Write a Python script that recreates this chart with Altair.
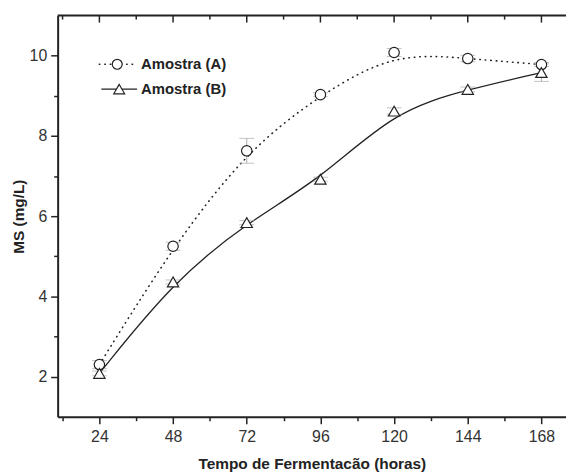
import altair as alt
import pandas as pd

hours = [24, 48, 72, 96, 120, 144, 168]
ms_a = [2.30, 5.25, 7.63, 9.03, 10.08, 9.93, 9.78]
ms_b = [2.08, 4.36, 5.84, 6.92, 8.62, 9.16, 9.58]
err_a = [0.10, 0.10, 0.31, 0.05, 0.10, 0.08, 0.05]
err_b = [0.06, 0.05, 0.05, 0.05, 0.08, 0.06, 0.22]
series_names = ["Amostra (A)", "Amostra (B)"]

x_major = [24, 48, 72, 96, 120, 144, 168]
x_minor = [12, 36, 60, 84, 108, 132, 156]
y_ticks = [2, 3, 4, 5, 6, 7, 8, 9, 10]

W, H = 512, 404
INK = "#222222"
TXT = "#333333"

df_a = pd.DataFrame({"h": hours, "v": ms_a, "lo": [v - e for v, e in zip(ms_a, err_a)],
                     "hi": [v + e for v, e in zip(ms_a, err_a)]})
df_b = pd.DataFrame({"h": hours, "v": ms_b, "lo": [v - e for v, e in zip(ms_b, err_b)],
                     "hi": [v + e for v, e in zip(ms_b, err_b)]})

xs = alt.Scale(domain=[10.4, 176], nice=False, zero=False)
ys = alt.Scale(domain=[1, 11], nice=False, zero=False)

x_axis = alt.Axis(
    values=sorted(x_major + x_minor),
    labelExpr="datum.value % 24 == 0 ? datum.label : ''",
    tickSize={"condition": {"test": "datum.value % 24 == 0", "value": 7}, "value": 4},
    title="Tempo de Fermentacão (horas)",
    titleFont="Liberation Sans", titleFontSize=15.5, titleFontWeight="bold", titleColor=INK,
    titlePadding=12,
    labelFont="Liberation Sans", labelFontSize=16, labelColor=TXT, labelPadding=5,
    domainColor=INK, domainWidth=2, tickColor=INK, tickWidth=1.5, grid=False,
)
y_axis = alt.Axis(
    values=y_ticks,
    labelExpr="datum.value % 2 == 0 ? datum.label : ''",
    tickSize={"condition": {"test": "datum.value % 2 == 0", "value": 7}, "value": 4},
    title="MS (mg/L)",
    titleFont="Liberation Sans", titleFontSize=15.5, titleFontWeight="bold", titleColor=INK,
    titlePadding=3,
    labelFont="Liberation Sans", labelFontSize=16, labelColor=TXT, labelPadding=4,
    domainColor=INK, domainWidth=2, tickColor=INK, tickWidth=1.5, grid=False,
)

def X():
    return alt.X("h:Q", scale=xs, axis=x_axis)

def Y(field="v"):
    return alt.Y(f"{field}:Q", scale=ys, axis=y_axis)

line_a = alt.Chart(df_a).mark_line(
    interpolate="basis", color=INK, strokeWidth=1.6, strokeDash=[0.5, 5], strokeCap="round"
).encode(x=X(), y=Y())
line_b = alt.Chart(df_b).mark_line(
    interpolate="basis", color=INK, strokeWidth=1.3
).encode(x=X(), y=Y())

def errbars(df):
    bar = alt.Chart(df).mark_rule(color="#aaaaaa", strokeWidth=1).encode(
        x=X(), y=Y("lo"), y2="hi:Q")
    cap_lo = alt.Chart(df).mark_tick(color="#aaaaaa", orient="horizontal", size=15, thickness=1).encode(
        x=X(), y=Y("lo"))
    cap_hi = alt.Chart(df).mark_tick(color="#aaaaaa", orient="horizontal", size=15, thickness=1).encode(
        x=X(), y=Y("hi"))
    return bar + cap_lo + cap_hi

pts_a = alt.Chart(df_a).mark_point(shape="circle", size=110, filled=True, fill="white",
                                   stroke=INK, strokeWidth=1.2, opacity=1).encode(x=X(), y=Y())
pts_b = alt.Chart(df_b).mark_point(shape="triangle-up", size=130, filled=True, fill="white",
                                   stroke=INK, strokeWidth=1.2, opacity=1).encode(x=X(), y=Y())

# top frame line with inward ticks
top_line = alt.Chart(pd.DataFrame({"a": [0]})).mark_rule(color=INK, strokeWidth=2).encode(
    x=alt.value(0), x2=alt.value(W), y=alt.value(0))
top_major = alt.Chart(pd.DataFrame({"h": x_major})).mark_rule(color=INK, strokeWidth=1.5).encode(
    x=X(), y=alt.value(0), y2=alt.value(7))
top_minor = alt.Chart(pd.DataFrame({"h": x_minor})).mark_rule(color=INK, strokeWidth=1.5).encode(
    x=X(), y=alt.value(0), y2=alt.value(4))

# legend
leg = pd.DataFrame({"name": series_names})
leg_line_a = alt.Chart(leg.iloc[[0]]).mark_rule(color=INK, strokeWidth=1.6, strokeDash=[0.5, 5],
                                                  strokeCap="round").encode(
    x=alt.value(42), x2=alt.value(76), y=alt.value(49))
leg_pt_a = alt.Chart(leg.iloc[[0]]).mark_point(shape="circle", size=100, filled=True, fill="white",
                                                stroke=INK, strokeWidth=1.2, opacity=1).encode(
    x=alt.value(60), y=alt.value(49))
leg_line_b = alt.Chart(leg.iloc[[1]]).mark_rule(color=INK, strokeWidth=1.3).encode(
    x=alt.value(44), x2=alt.value(80), y=alt.value(74))
leg_pt_b = alt.Chart(leg.iloc[[1]]).mark_point(shape="triangle-up", size=120, filled=True, fill="white",
                                                stroke=INK, strokeWidth=1.2, opacity=1).encode(
    x=alt.value(62), y=alt.value(74))
leg_txt_a = alt.Chart(leg.iloc[[0]]).mark_text(align="left", baseline="middle", font="Liberation Sans",
                                                fontSize=15, fontWeight="bold", color=INK).encode(
    x=alt.value(84), y=alt.value(49), text="name:N")
leg_txt_b = alt.Chart(leg.iloc[[1]]).mark_text(align="left", baseline="middle", font="Liberation Sans",
                                                fontSize=15, fontWeight="bold", color=INK).encode(
    x=alt.value(84), y=alt.value(74), text="name:N")

chart = alt.layer(
    line_a, line_b, errbars(df_a), errbars(df_b), pts_a, pts_b,
    top_line, top_major, top_minor,
    leg_line_a, leg_pt_a, leg_line_b, leg_pt_b, leg_txt_a, leg_txt_b,
).properties(
    width=W, height=H,
    autosize=alt.AutoSizeParams(type="none"),
    padding={"left": 50, "top": 6, "right": 0, "bottom": 54},
    background="white",
).configure_view(stroke=None)

chart.save("out.html", embed_options={"renderer": "svg", "actions": False})
